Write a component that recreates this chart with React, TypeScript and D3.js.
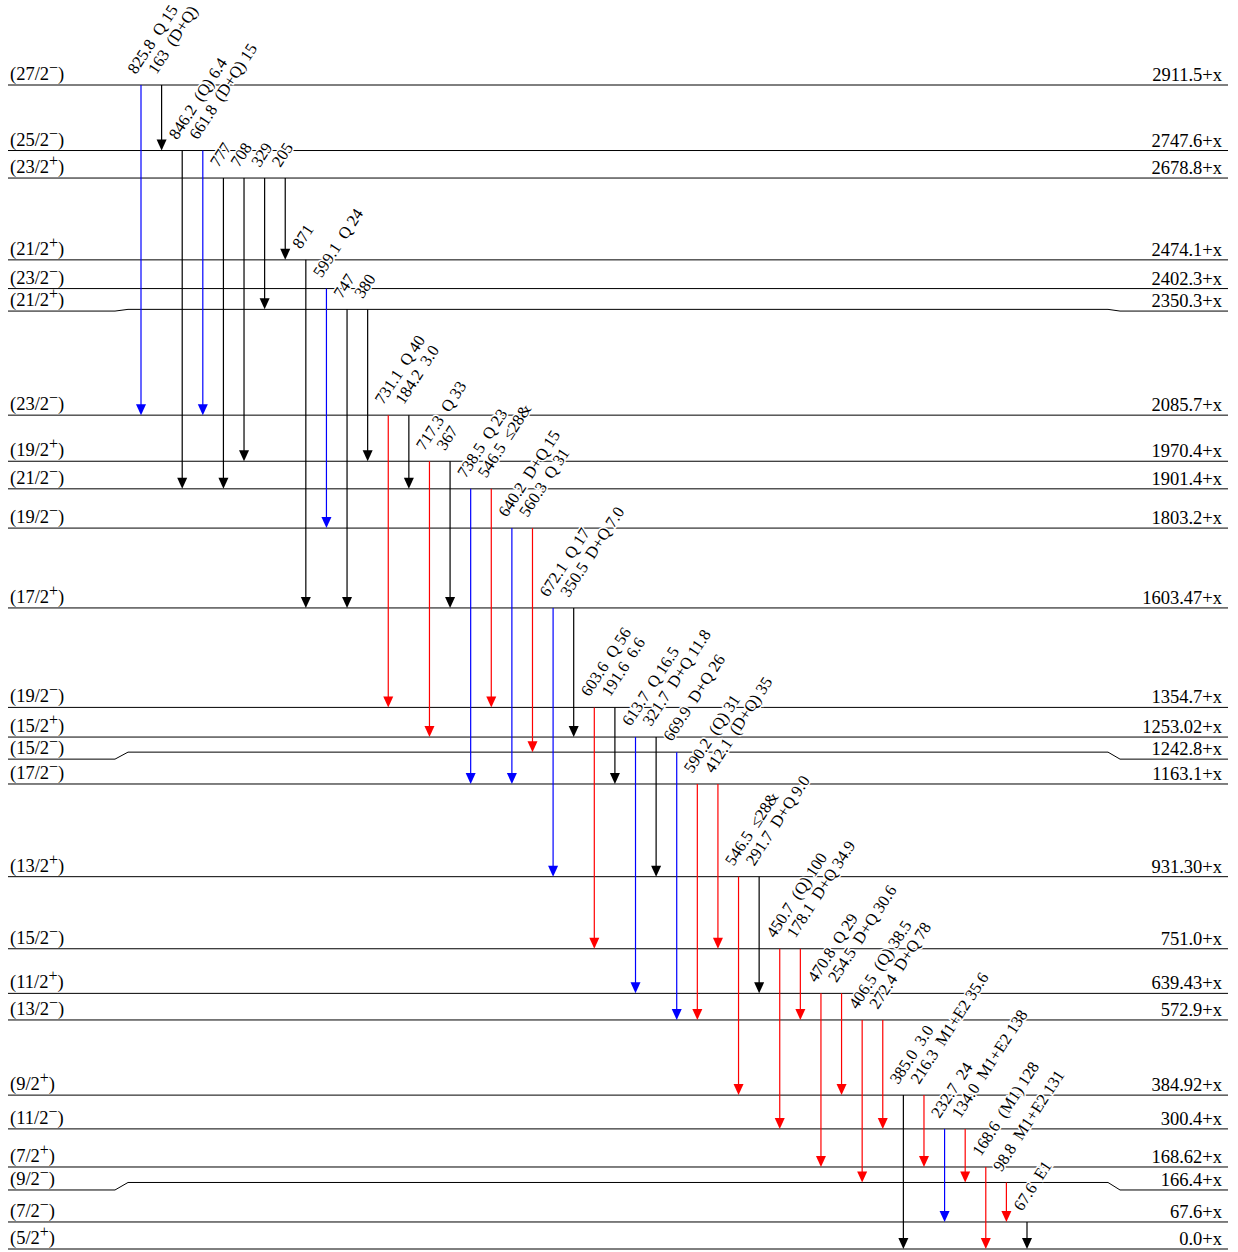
import React from 'react';
import * as d3 from 'd3';

// ---- Level data ----
const levelEnergy = [2911.5, 2747.6, 2678.8, 2474.1, 2402.3, 2350.3, 2085.7, 1970.4, 1901.4, 1803.2, 1603.47, 1354.7, 1253.02, 1242.8, 1163.1, 931.30, 751.0, 639.43, 572.9, 384.92, 300.4, 168.62, 166.4, 67.6, 0.0];
const levelText = ["2911.5+x", "2747.6+x", "2678.8+x", "2474.1+x", "2402.3+x", "2350.3+x", "2085.7+x", "1970.4+x", "1901.4+x", "1803.2+x", "1603.47+x", "1354.7+x", "1253.02+x", "1242.8+x", "1163.1+x", "931.30+x", "751.0+x", "639.43+x", "572.9+x", "384.92+x", "300.4+x", "168.62+x", "166.4+x", "67.6+x", "0.0+x"];
const levelSpin = ["27/2", "25/2", "23/2", "21/2", "23/2", "21/2", "23/2", "19/2", "21/2", "19/2", "17/2", "19/2", "15/2", "15/2", "17/2", "13/2", "15/2", "11/2", "13/2", "9/2", "11/2", "7/2", "9/2", "7/2", "5/2"];
const levelParity = ["−", "−", "+", "+", "−", "+", "−", "+", "−", "−", "+", "−", "+", "−", "−", "+", "−", "+", "−", "+", "−", "+", "−", "−", "+"];

// ---- Gamma data ----
const gammaEnergy = ["825.8", "163", "846.2", "661.8", "777", "708", "329", "205", "871", "599.1", "747", "380", "731.1", "184.2", "717.3", "367", "738.5", "546.5", "640.2", "560.3", "672.1", "350.5", "603.6", "191.6", "613.7", "321.7", "669.9", "590.2", "412.1", "546.5", "291.7", "450.7", "178.1", "470.8", "254.5", "406.5", "272.4", "385.0", "216.3", "232.7", "134.0", "168.6", "98.8", "67.6"];
const gammaMult = ["Q", "(D+Q)", "(Q)", "(D+Q)", "", "", "", "", "", "Q", "", "", "Q", "", "Q", "", "Q", "", "D+Q", "Q", "Q", "D+Q", "Q", "", "Q", "D+Q", "D+Q", "(Q)", "(D+Q)", "", "D+Q", "(Q)", "D+Q", "Q", "D+Q", "(Q)", "D+Q", "", "M1+E2", "", "M1+E2", "(M1)", "M1+E2", "E1"];
const gammaIntensity = ["15", "", "6.4", "15", "", "", "", "", "", "24", "", "", "40", "3.0", "33", "", "23", "≤28&", "15", "31", "17", "7.0", "56", "6.6", "16.5", "11.8", "26", "31", "35", "≤28&", "9.0", "100", "34.9", "29", "30.6", "38.5", "78", "3.0", "35.6", "24", "138", "128", "131", ""];
const gammaFrom = [2911.5, 2911.5, 2747.6, 2747.6, 2678.8, 2678.8, 2678.8, 2678.8, 2474.1, 2402.3, 2350.3, 2350.3, 2085.7, 2085.7, 1970.4, 1970.4, 1901.4, 1901.4, 1803.2, 1803.2, 1603.47, 1603.47, 1354.7, 1354.7, 1253.02, 1253.02, 1242.8, 1163.1, 1163.1, 931.30, 931.30, 751.0, 751.0, 639.43, 639.43, 572.9, 572.9, 384.92, 384.92, 300.4, 300.4, 168.62, 166.4, 67.6];
const gammaTo = [2085.7, 2747.6, 1901.4, 2085.7, 1901.4, 1970.4, 2350.3, 2474.1, 1603.47, 1803.2, 1603.47, 1970.4, 1354.7, 1901.4, 1253.02, 1603.47, 1163.1, 1354.7, 1163.1, 1242.8, 931.30, 1253.02, 751.0, 1163.1, 639.43, 931.30, 572.9, 572.9, 751.0, 384.92, 639.43, 300.4, 572.9, 168.62, 384.92, 166.4, 300.4, 0.0, 168.62, 67.6, 166.4, 0.0, 67.6, 0.0];
const gammaClass = ["b", "k", "k", "b", "k", "k", "k", "k", "k", "b", "k", "k", "r", "k", "r", "k", "b", "r", "b", "r", "b", "k", "r", "k", "b", "k", "b", "r", "r", "r", "k", "r", "r", "r", "r", "r", "r", "k", "r", "b", "r", "r", "r", "k"];

// ---- Layout / style (not data) ----
const classColor: Record<string, string> = { r: '#ff0000', b: '#0000ff', k: '#000000' };
// [end offset, middle offset] in px for levels drawn off their scale position
const levelShift: Record<number, [number, number]> = {
  2350.3: [1.7, 0],
  1253.02: [-11, -11],
  1242.8: [7, 0],
  168.62: [-14.6, -14.6],
  166.4: [7.5, 0],
};
const FONT = '"Liberation Serif", "DejaVu Serif", serif';
const X0 = 8, X1 = 1228;

export default function App() {
  const y = d3.scaleLinear().domain([0, 2911.5]).range([1249, 85]);
  const x = d3.scalePoint<number>().domain(d3.range(gammaEnergy.length)).range([141, 1027]);

  const endY = (e: number) => y(e) + (levelShift[e] ? levelShift[e][0] : 0);
  const midY = (e: number) => y(e) + (levelShift[e] ? levelShift[e][1] : 0);

  const levelPath = (e: number) => {
    const a = endY(e), b = midY(e);
    if (a === b) return `M${X0},${a}H${X1}`;
    return `M${X0},${a}H115L128,${b}H1108L1120,${a}H${X1}`;
  };

  const labelText = (i: number) => {
    let s = gammaEnergy[i];
    if (gammaMult[i] || gammaIntensity[i]) s += '\u00a0\u00a0';
    if (gammaMult[i]) s += gammaMult[i] + (gammaIntensity[i] ? '\u00a0' : '');
    if (gammaIntensity[i]) s += gammaIntensity[i];
    return s;
  };

  return (
    <svg width={1238} height={1252} style={{ position: 'absolute', left: 0, top: 0, background: '#fff' }} fontFamily={FONT}>
      <rect width={1238} height={1252} fill="#fff" />
      {/* levels */}
      {levelEnergy.map((e, i) => (
        <g key={'l' + i}>
          <path d={levelPath(e)} fill="none" stroke="#000" strokeWidth={1} />
          <text x={10} y={endY(e) - 5} fontSize={18.5} fill="#000">
            ({levelSpin[i]}
            <tspan fontSize={16} dy={-7}>{levelParity[i]}</tspan>
            <tspan dy={7}>)</tspan>
          </text>
          <text x={1222} y={endY(e) - 4} fontSize={18.5} textAnchor="end" fill="#000">{levelText[i]}</text>
        </g>
      ))}
      {/* transitions */}
      {gammaEnergy.map((_, i) => {
        const xi = x(i)!;
        const y0 = midY(gammaFrom[i]);
        const y1 = midY(gammaTo[i]);
        const c = classColor[gammaClass[i]];
        return (
          <g key={'g' + i}>
            <line x1={xi} x2={xi} y1={y0} y2={y1 - 10} stroke={c} strokeWidth={1.2} />
            <path d={`M${xi - 5},${y1 - 11}L${xi + 5},${y1 - 11}L${xi},${y1}Z`} fill={c} />
          </g>
        );
      })}
      {/* gamma labels */}
      {gammaEnergy.map((_, i) => {
        const xi = x(i)! - 5;
        const yi = midY(gammaFrom[i]) - 10;
        return (
          <text key={'t' + i} x={xi} y={yi} transform={`rotate(-57 ${xi} ${yi})`} fontSize={16.5}
            fill="#000" stroke="#fff" strokeWidth={3} paintOrder="stroke" style={{ whiteSpace: 'pre' }}>
            {labelText(i)}
          </text>
        );
      })}
    </svg>
  );
}
